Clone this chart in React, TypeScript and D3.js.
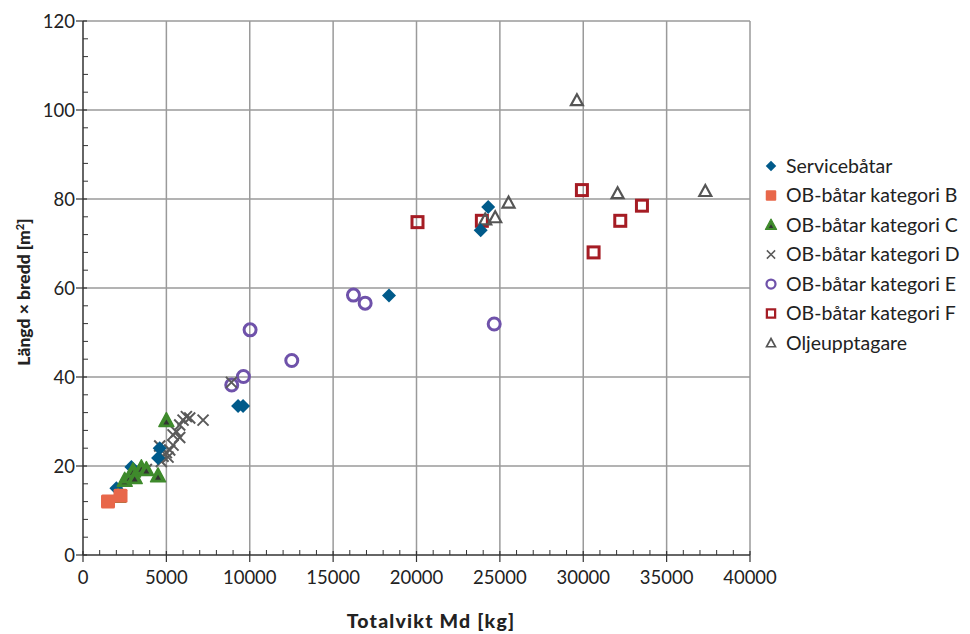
import * as d3 from "d3";
import React, { useEffect } from "react";

// [Totalvikt kg, längd x bredd m2]
const serviceBatar: [number, number][] = [
  [2000, 15], [2900, 19.8], [4500, 21.8], [4600, 24], [9300, 33.5], [9600, 33.5],
  [18350, 58.3], [23850, 73.0], [24300, 78.2],
];
const katB: [number, number][] = [[1500, 12.0], [2250, 13.3]];
const katC: [number, number][] = [
  [2100, 13.2], [2500, 16.8], [2800, 17.6], [3000, 18.9], [3100, 17.4], [3500, 19.6],
  [3800, 19.2], [4500, 17.8], [5000, 30.2],
];
const katD: [number, number][] = [
  [3200, 19.5], [3800, 19.2], [4600, 24.5], [4700, 21.0], [4800, 22.2], [5000, 23.0],
  [5100, 22.0], [5200, 23.6], [5400, 24.7], [5400, 27.0], [5600, 27.7], [5800, 26.4],
  [5800, 29.2], [6000, 30.3], [6200, 31.1], [6400, 30.8], [7200, 30.3], [8900, 38.8],
];
const katE: [number, number][] = [
  [8920, 38.2], [9620, 40.1], [10020, 50.6], [12520, 43.7], [16220, 58.4],
  [16920, 56.6], [24660, 51.9],
];
const katF: [number, number][] = [
  [20060, 74.8], [23920, 75.1], [29920, 82.0], [30620, 68.0], [32220, 75.1], [33520, 78.5],
];
const oljeupptagare: [number, number][] = [
  [24120, 75.4], [24720, 75.9], [25520, 79.2], [29620, 102.2], [32060, 81.3], [37320, 81.8],
];

const legendLabels = [
  "Servicebåtar",
  "OB-båtar kategori B",
  "OB-båtar kategori C",
  "OB-båtar kategori D",
  "OB-båtar kategori E",
  "OB-båtar kategori F",
  "Oljeupptagare",
];

const xTicks = [0, 5000, 10000, 15000, 20000, 25000, 30000, 35000, 40000];
const yTicks = [0, 20, 40, 60, 80, 100, 120];

const font = "Lato, 'Open Sans', sans-serif";

type Kind = "diamond" | "squareFill" | "triFill" | "cross" | "circle" | "squareOpen" | "triOpen";
const kinds: Kind[] = ["diamond", "squareFill", "triFill", "cross", "circle", "squareOpen", "triOpen"];

const Marker = ({ kind, x, y, s = 1 }: { kind: Kind; x: number; y: number; s?: number }) => {
  const t = `translate(${x},${y}) scale(${s})`;
  switch (kind) {
    case "diamond":
      return <path transform={t} d="M0,-7L7,0L0,7L-7,0Z" fill="#005a8a" />;
    case "squareFill":
      return <rect transform={t} x={-7} y={-7} width={14} height={14} rx={1.5} fill="#e8674a" />;
    case "triFill":
      return (
        <g transform={t}>
          <path d="M0,-8L7.5,6L-7.5,6Z" fill="#3f8a2c" stroke="#3f8a2c" strokeWidth={1.5} strokeLinejoin="round" />
          <path d="M0,-1L3,4L-3,4Z" fill="#333" />
        </g>
      );
    case "cross":
      return <path transform={t} d="M-5.5,-5.5L5.5,5.5M5.5,-5.5L-5.5,5.5" stroke="#5a5a5a" strokeWidth={2} fill="none" />;
    case "circle":
      return <circle transform={t} r={6} fill="none" stroke="#6f52aa" strokeWidth={3} />;
    case "squareOpen":
      return <rect transform={t} x={-5.5} y={-5.5} width={11} height={11} fill="none" stroke="#a51c24" strokeWidth={3} />;
    case "triOpen":
      return <path transform={t} d="M0,-6L6,5L-6,5Z" fill="none" stroke="#555" strokeWidth={2.2} strokeLinejoin="miter" />;
  }
};

export default function App() {
  useEffect(() => {
    document.body.style.margin = "0";
  }, []);

  const width = 970;
  const height = 634;
  const x = d3.scaleLinear().domain([0, 40000]).range([83, 750]);
  const y = d3.scaleLinear().domain([0, 120]).range([555, 21]);

  const xMinor = d3.range(0, 40001, 1000).filter((v) => v % 5000 !== 0);
  const yMinor = d3.range(0, 121, 4).filter((v) => v % 20 !== 0);

  const series: [number, number][][] = [serviceBatar, katB, katC, katD, katE, katF, oljeupptagare];
  // draw order: later ones on top
  const drawOrder = [4, 5, 6, 3, 0, 2, 1];

  return (
    <svg width={width} height={height} style={{ display: "block" }} fontFamily={font}>
      <rect width={width} height={height} fill="#fff" />
      {/* grid */}
      {xTicks.filter((v) => v > 0).map((v) => (
        <line key={"gx" + v} x1={x(v)} x2={x(v)} y1={y(0)} y2={y(120)} stroke="#9a9a9a" strokeWidth={1.5} />
      ))}
      {yTicks.filter((v) => v > 0).map((v) => (
        <line key={"gy" + v} x1={x(0)} x2={x(40000)} y1={y(v)} y2={y(v)} stroke="#9a9a9a" strokeWidth={1.5} />
      ))}
      {/* axes */}
      <line x1={x(0)} x2={x(40000)} y1={y(0)} y2={y(0)} stroke="#333" strokeWidth={1.5} />
      <line x1={x(0)} x2={x(0)} y1={y(0)} y2={y(120)} stroke="#333" strokeWidth={1.5} />
      {xTicks.map((v) => (
        <line key={"tx" + v} x1={x(v)} x2={x(v)} y1={y(0) - 4} y2={y(0) + 7} stroke="#333" strokeWidth={1.2} />
      ))}
      {xMinor.map((v) => (
        <line key={"mx" + v} x1={x(v)} x2={x(v)} y1={y(0)} y2={y(0) - 5} stroke="#333" strokeWidth={1} />
      ))}
      {yTicks.map((v) => (
        <line key={"ty" + v} x1={x(0) - 7} x2={x(0) + 4} y1={y(v)} y2={y(v)} stroke="#333" strokeWidth={1.2} />
      ))}
      {yMinor.map((v) => (
        <line key={"my" + v} x1={x(0)} x2={x(0) + 5} y1={y(v)} y2={y(v)} stroke="#333" strokeWidth={1} />
      ))}
      {xTicks.map((v) => (
        <text key={"lx" + v} x={x(v)} y={y(0) + 29} textAnchor="middle" fontSize={18.5} fill="#222">
          {v}
        </text>
      ))}
      {yTicks.map((v) => (
        <text key={"ly" + v} x={x(0) - 8} y={y(v) + 6.5} textAnchor="end" fontSize={18.5} fill="#222">
          {v}
        </text>
      ))}
      {/* axis titles */}
      <text x={431} y={628} textAnchor="middle" fontSize={19.5} fontWeight={900} letterSpacing={1.2} fill="#222">
        Totalvikt Md [kg]
      </text>
      <text transform="translate(30,292) rotate(-90)" textAnchor="middle" fontSize={17.5} fontWeight={900} fill="#222">
        Längd × bredd [m<tspan baselineShift="super" fontSize={11}>2</tspan>]
      </text>
      {/* points */}
      {drawOrder.map((si) =>
        series[si].map((d, i) => <Marker key={si + "-" + i} kind={kinds[si]} x={x(d[0])} y={y(d[1])} />)
      )}
      {/* legend */}
      {legendLabels.map((lab, i) => (
        <g key={lab} transform={`translate(0,${166 + i * 29.5})`}>
          <Marker kind={kinds[i]} x={771} y={0} s={0.75} />
          <text x={786} y={6.5} fontSize={19.5} fill="#222">
            {lab}
          </text>
        </g>
      ))}
    </svg>
  );
}
